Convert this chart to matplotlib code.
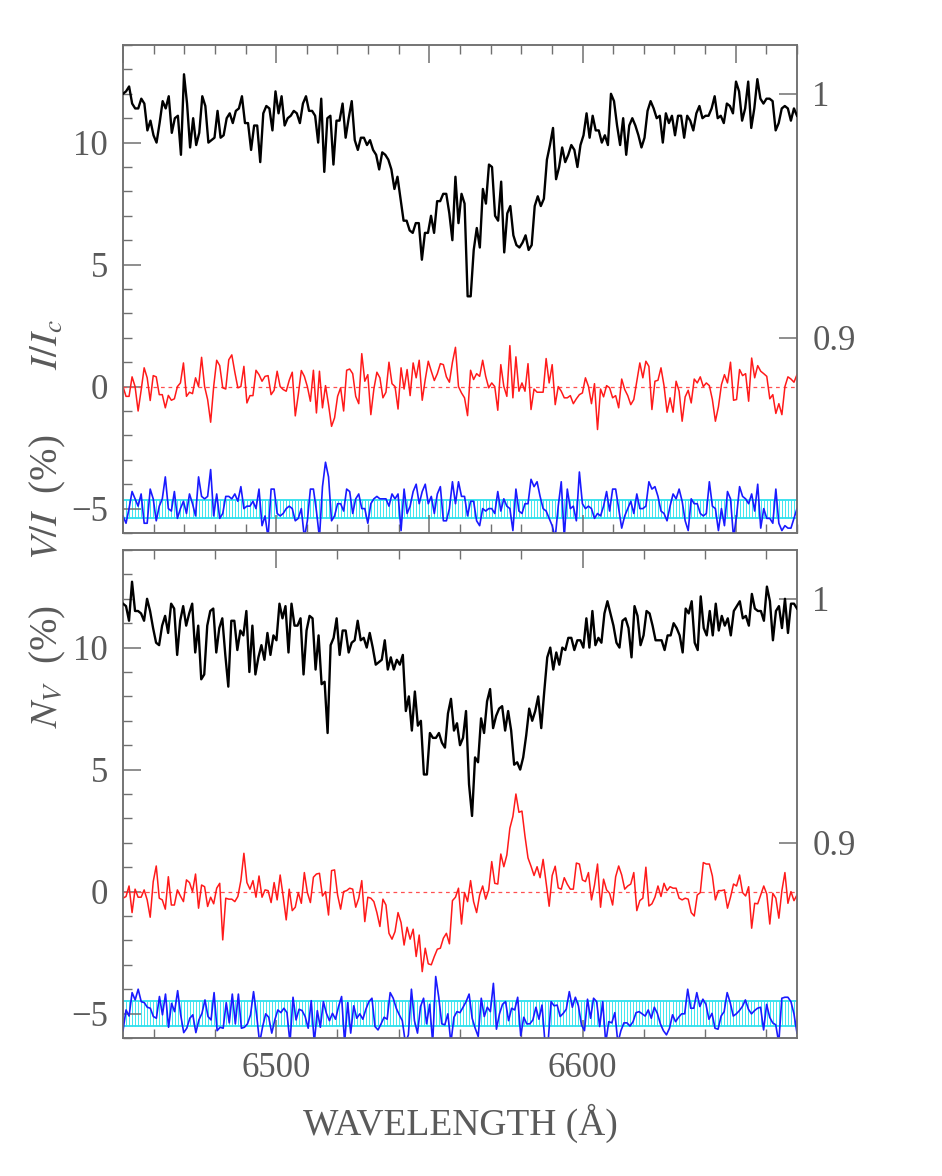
import numpy as np
import matplotlib
matplotlib.use("Agg")
import matplotlib.pyplot as plt
from matplotlib.ticker import MultipleLocator, FixedLocator, NullLocator

# spectral range (Angstrom) covered by every series; samples are evenly spaced
WL_MIN, WL_MAX = 6450.0, 6670.0

# ---- upper panel -------------------------------------------------------
top_I = [  # Stokes I / Ic
    1.000, 1.001, 1.003, 0.996, 0.994, 0.994, 0.998, 0.996, 0.985, 0.989,
    0.983, 0.980, 0.988, 0.997, 0.994, 0.999, 0.984, 0.990, 0.991, 0.975,
    1.008, 0.996, 0.978, 0.990, 0.979, 0.984, 0.999, 0.995, 0.980, 0.981,
    0.982, 0.993, 0.982, 0.983, 0.990, 0.992, 0.988, 0.993, 0.994, 0.999,
    0.988, 0.988, 0.977, 0.987, 0.987, 0.972, 0.992, 0.995, 0.994, 0.985,
    1.001, 0.992, 0.999, 0.987, 0.990, 0.991, 0.993, 0.992, 0.988, 0.996,
    0.999, 0.993, 0.993, 0.991, 0.980, 0.998, 0.968, 0.990, 0.991, 0.971,
    0.989, 0.989, 0.996, 0.982, 0.990, 0.997, 0.981, 0.977, 0.982, 0.982,
    0.979, 0.981, 0.977, 0.975, 0.969, 0.976, 0.975, 0.973, 0.969, 0.961,
    0.966, 0.957, 0.948, 0.948, 0.944, 0.943, 0.947, 0.947, 0.932, 0.943,
    0.943, 0.950, 0.943, 0.956, 0.956, 0.959, 0.959, 0.951, 0.940, 0.966,
    0.947, 0.959, 0.955, 0.917, 0.917, 0.936, 0.945, 0.937, 0.961, 0.955,
    0.971, 0.970, 0.950, 0.948, 0.964, 0.935, 0.951, 0.954, 0.942, 0.938,
    0.937, 0.939, 0.942, 0.936, 0.938, 0.954, 0.958, 0.954, 0.957, 0.973,
    0.979, 0.986, 0.965, 0.970, 0.978, 0.972, 0.975, 0.979, 0.977, 0.970,
    0.979, 0.983, 0.992, 0.982, 0.991, 0.985, 0.985, 0.980, 0.983, 0.979,
    1.000, 0.997, 0.987, 0.979, 0.990, 0.975, 0.987, 0.990, 0.987, 0.983,
    0.978, 0.982, 0.993, 0.997, 0.994, 0.990, 0.991, 0.980, 0.992, 0.988,
    0.991, 0.983, 0.991, 0.991, 0.982, 0.991, 0.989, 0.985, 0.992, 0.995,
    0.990, 0.991, 0.991, 0.994, 0.999, 0.990, 0.991, 0.988, 0.996, 0.995,
    0.992, 1.005, 1.001, 0.989, 0.994, 1.005, 0.986, 0.994, 1.006, 0.998,
    0.996, 0.998, 0.998, 0.997, 0.985, 0.988, 0.994, 0.995, 0.994, 0.989,
    0.994, 0.991]
top_V = [  # Stokes V / I (%)
    0.0, -0.4, -0.4, 0.4, 0.0, -1.0, -0.15, 0.77, 0.36, -0.57,
    0.45, 0.4, -0.33, -0.33, -0.87, -0.36, -0.56, -0.5, 0.0, 0.15,
    0.97, -0.4, -0.23, -0.29, 0.36, 0.0, 1.2, 0.0, -0.53, -1.46,
    0.0, 1.08, 0.86, -0.05, -0.1, 1.1, 1.3, 0.59, -0.05, 0.0,
    0.83, -0.67, -0.37, -0.37, 0.67, 0.49, 0.22, 0.42, 0.45, -0.33,
    -0.15, 0.63, 0.0, -0.12, -0.19, 0.26, 0.59, -1.2, -0.33, 0.66,
    0.42, 0.0, -0.6, 0.67, -1.08, 0.63, -0.87, 0.04, -0.74, -1.63,
    -1.28, -0.4, -0.05, -1.0, 0.67, 0.72, 0.53, -0.4, -0.7, 1.35,
    0.22, 0.49, -1.15, -0.1, 0.59, 0.36, -0.46, -0.23, 1.0, 0.12,
    0.0, -0.92, 0.77, -0.1, 0.7, -0.37, 0.97, 0.36, 1.08, -0.56,
    0.29, 1.04, 0.63, 0.25, 0.53, 0.94, 0.9, 0.4, 0.18, 1.0,
    1.61, 0.0,
    -0.26, -0.46, -1.19, 0.67, 0.29, 0.53, 0.42, 1.08, 0.42, -0.05,
    0.15, 0.0, -0.97, 0.9, 0.01, -0.4, 1.68, -0.46, 1.22, -0.19,
    0.15, -0.19, 0.94, -0.94, -0.1, -0.23, -0.23, -0.23, 1.15, 0.15,
    0.9, -0.74, 0.0, -0.19, -0.46, -0.46, -0.37, -0.7, -0.5, -0.33,
    -0.26, 0.36, 0.01, -0.7, 0.12, -1.76, -0.1, -0.42, 0.04, -0.05,
    -0.46, -0.37, -0.87, 0.31, -0.12, -0.37, -0.74, -0.53, 0.22, 0.97,
    0.36, 1.04, 0.83, -0.94, 0.22, 0.26, 0.77, 0.04, -1.05, -0.46,
    -1.05, 0.22, -0.19, -1.42, -0.42, -0.15, -0.67, 0.31, 0.15, 0.4,
    0.0, 0.15, 0.04, -0.53, -1.42, -0.83, 0.08, 0.49, 0.15, 1.0,
    -0.56, -0.53, 0.7, 0.45, 0.53, -0.6, 1.17, 0.36, 0.86, 0.63,
    0.53, 0.42, -0.5, -0.33, -1.1, -0.7, -1.15, 0.0, 0.4, 0.31,
    0.18, 0.49]
top_N = [  # null profile N_V (%)
    -0.3, -0.6, 0.0, 0.7, 0.4, 0.1, 0.6, -0.6, -0.6, 0.8,
    0.4, -0.5, 0.1, 0.4, 1.3, 0.0, -0.1, 0.7, -0.4, 0.0,
    0.3, -0.2, 0.6, 0.2, -0.3, 1.3, 0.5, 0.4, 0.5, 1.6,
    -0.3, 0.6, -0.4, -0.2, 0.5, 0.5, 0.4, 0.6, 0.3, 0.9,
    0.0, 0.1, 0.1, 0.3, 0.0, 0.8, -0.7, -0.3, -1.2, 0.8,
    0.8, -0.2, -0.3, -0.2, 0.0, 0.1, 0.0, -0.5, -0.4, 0.0,
    -1.2, -0.5, 0.8, 0.8, -0.1, -1.2, 0.9, 1.9, 1.3, -0.5,
    -0.3, 0.2, 0.2, -0.1, 0.8, 0.7, -0.2, 0.4, 0.6, 0.0,
    0.0, -0.6, 0.2, 0.4, 0.5, 0.4, 0.4, 0.4, 0.1, 0.6,
    0.4, 0.6, -0.9, 0.8, -0.2, 0.1, 0.7, 1.0, 0.2, 0.7,
    1.0, 0.2, 0.5, -0.2, 0.6, 0.9, -0.5, -0.5, 0.0, 1.1,
    0.2, 1.1,
    0.5, 0.5, -0.3, 0.3, 0.3, -0.5, -0.7, 0.0, -0.1, 0.0,
    0.0, -0.2, 0.7, -0.1, 0.4, 0.1, 0.0, -0.9, 0.8, -0.1,
    -0.2, 0.2, 0.2, 1.2, 0.9, 1.1, 0.5, 0.0, -0.1, -0.4,
    -0.7, -1.2, 0.1, 1.1, -1.2, 0.8, 0.0, 0.1, -0.5, 1.5,
    0.2, 0.0, 0.1, 0.0, -0.4, -0.2, -0.3, 0.1, 0.7, -0.1,
    0.8, 0.8, 0.0, -0.8, -0.3, 0.0, 0.3, -0.2, 0.6, 0.0,
    0.0, 0.1, 1.1, 0.8, 0.9, 0.5, -0.1, -0.2, -0.5, 0.1,
    0.6, 0.4, 0.8, 0.3, -0.5, -0.9, 0.4, 0.2, 0.2, -0.2,
    -0.3, -0.2, 1.1, 0.1, 0.0, -0.9, 0.0, -0.7, 0.7, 0.4,
    -1.2, -0.3, 0.9, 0.5, 0.4, 0.2, 0.6, -0.1, 1.0, -0.8,
    0.0, -0.4, -0.4, -0.6, 0.8, -0.6, -0.9, -0.7, -0.8, -0.8,
    -0.4, 0.0]
top_sigma = 0.37  # null error-bar half width (%)

# ---- lower panel -------------------------------------------------------
bot_I = [
    0.998, 0.997, 0.991, 1.007, 0.995, 0.995, 0.994, 0.991, 1.000, 0.995,
    0.988, 0.982, 0.981, 0.989, 0.993, 0.986, 0.998, 0.996, 0.977, 0.991,
    0.997, 0.989, 0.994, 0.998, 0.978, 0.989, 0.967, 0.969, 0.989, 0.995,
    0.996, 0.978, 0.988, 0.992, 0.977, 0.964, 0.991, 0.991, 0.979, 0.987,
    0.985, 0.995, 0.970, 0.989, 0.969, 0.976, 0.981, 0.975, 0.986, 0.977,
    0.985, 0.983, 0.998, 0.992, 0.997, 0.978, 0.998, 0.989, 0.989, 0.992,
    0.969, 0.987, 0.993, 0.992, 0.971, 0.985, 0.965, 0.966, 0.945, 0.981,
    0.984, 0.992, 0.977, 0.987, 0.987, 0.978, 0.982, 0.983, 0.991, 0.983,
    0.984, 0.980, 0.986, 0.980, 0.973, 0.974, 0.975, 0.983, 0.971, 0.976,
    0.971, 0.975, 0.973, 0.977, 0.954, 0.960, 0.946, 0.962, 0.948, 0.950,
    0.928, 0.928, 0.945, 0.943, 0.943, 0.945, 0.941, 0.939, 0.953, 0.959,
    0.946, 0.949,
    0.940, 0.943, 0.954, 0.924, 0.911, 0.935, 0.933, 0.951, 0.945, 0.958,
    0.963, 0.947, 0.952, 0.955, 0.956, 0.946, 0.954, 0.946, 0.932, 0.933,
    0.930, 0.935, 0.944, 0.955, 0.950, 0.954, 0.960, 0.947, 0.962, 0.976,
    0.980, 0.971, 0.978, 0.973, 0.980, 0.979, 0.984, 0.984, 0.979, 0.983,
    0.983, 0.980, 0.992, 0.980, 0.995, 0.981, 0.984, 0.982, 0.994, 0.999,
    0.994, 0.989, 0.982, 0.980, 0.991, 0.992, 0.988, 0.976, 0.997, 0.993,
    0.981, 0.985, 0.995, 0.994, 0.989, 0.983, 0.983, 0.983, 0.979, 0.985,
    0.985, 0.990, 0.988, 0.985, 0.978, 0.996, 0.994, 0.999, 0.982, 0.979,
    1.001, 0.988, 0.985, 0.995, 0.985, 0.998, 0.987, 0.993, 0.989, 0.992,
    0.985, 0.995, 0.997, 0.999, 0.992, 0.993, 0.989, 1.002, 0.996, 0.995,
    0.995, 0.991, 1.005, 0.999, 0.983, 0.995, 0.997, 0.988, 1.000, 0.986,
    0.998, 0.998, 0.996]
bot_V = [
    -0.27, -0.2, 0.23, -0.86, 0.1, -0.23, -0.23, 0.07, -0.34, -1.05,
    0.41, 1.05, -0.27, -0.34, -0.72, 0.61, -0.55, -0.55, 0.07, -0.18,
    -0.41, 0.48, 0.37, 0.0, 0.72, -0.68, 0.27, 0.2, -0.61, -0.23,
    -0.5, 0.14, 0.34, -1.98, -0.27, -0.31, -0.31, -0.41, -0.2, 0.45,
    1.57, 0.37, 0.1, 0.45, -0.23, 0.64, -0.23, 0.07, 0.04, -0.45,
    0.37, -0.34, 0.68, -0.2, -1.16, 0.1, -0.78, -0.64, -0.04, -0.48,
    0.78, -0.04, -0.45, 0.59, 0.72, 0.75, -0.18, 0.0, -0.96, 0.86,
    0.89, -0.14, -0.72, 0.0, 0.04, 0.14, 0.1, -0.64, -0.27, 0.45,
    -1.23, -0.23, -0.27, -0.41, -0.86, -1.43, -0.31, -0.55, -1.71, -1.95,
    -1.64, -0.86, -1.27, -2.19, -1.46, -1.95, -1.54, -2.66, -1.78, -3.28,
    -2.32, -2.96, -3.0, -2.66, -2.36, -2.32, -1.91, -1.71, -2.14, -0.37,
    -0.23, 0.14,
    -1.33, -0.04, -0.41, 0.45, -0.41, -0.86, -0.14, 0.23, -0.31, 0.07,
    1.23, 0.34, 0.31, 1.54, 1.02, 1.5, 2.6, 3.08, 4.0, 3.25,
    3.3, 2.27, 1.38, 1.04, 0.66, 1.02, 0.57, 1.32, 0.35, -0.6,
    0.66, 1.04, 0.15, 0.1, 0.57, 0.3, 0.1, 0.1, 1.17, 1.13,
    0.48, 0.41, 0.78, -0.34, 0.27, 1.13, -0.64, 0.51, 0.07, -0.07,
    -0.55, 0.61, 1.05, 0.68, 0.1, 0.23, 0.31, 0.78, -0.78, -0.37,
    -0.27, 1.0, -0.59, -0.5, -0.23, 0.23, -0.2, 0.34, 0.04, 0.2,
    0.14, 0.14, -0.27, -0.34, -0.27, -0.31, -0.86, -1.0, -0.14, -0.04,
    1.19, 1.13, 1.13, 0.64, -0.34, 0.04, 0.04, 0.07, -0.68, -0.23,
    0.31, 0.23, 0.68, -0.04, -0.18, 0.2, -1.5, -0.48, -0.5, -0.14,
    0.23, -0.1, -1.33, -0.07, -0.27, -1.09, 0.04, 0.78, -0.48, 0.0,
    -0.37, -0.14]
bot_N = [
    -0.7, 0.15, -0.1, 0.86, 0.56, 1.0, 0.49, 0.45, 0.26, 0.22,
    -0.12, -0.19, 0.7, -0.05, 0.8, -0.56, 0.42, 0.08, 0.94, -0.05,
    -0.78, -0.6, -0.19, -0.05, -0.78, -0.26, 0.01, 0.56, -0.12, -0.26,
    0.86, -0.7, -0.56, -0.6, 0.45, -0.38, 0.8, -0.42, 0.8, -0.6,
    -0.56, -0.42, -0.05, 0.9, -0.05, -1.2, -0.53, -0.01, -0.15, -0.8,
    -0.26, 0.15, 0.04, 0.22, 0.04, -1.2, 0.67, -0.26, 0.18, 0.12,
    -0.12, -0.6, 0.53, -1.2, 0.12, -0.56, 0.49, 0.01, -0.29, 0.01,
    -0.23, 0.29, 0.7, -1.2, 0.45, -0.8, 0.32, -0.19, -0.01, -0.23,
    0.18, 0.49, 0.63, -0.53, -0.67, -0.42, -0.15, -0.23, 0.86, 0.63,
    0.22, -0.05, -0.29, -1.2, -0.87, 1.0, -0.29, -0.8, 0.29, 0.63,
    -0.42, 0.38, -1.2, 1.52, 0.67, -0.42, -0.46, -0.01, -1.2, -0.15,
    0.08, 0.04,
    0.26, 0.49, 0.8, -0.19, -0.6, -0.94, 0.63, -0.12, 0.26, 0.08,
    1.24, -0.64, -0.01, 0.38, 0.49, -0.29, 0.22, 0.15, 0.67, -0.91,
    -0.15, -0.42, -0.42, -0.26, 0.26, -0.23, 0.35, -1.2, -1.2, 0.49,
    0.32, 0.35, -0.12, 0.01, 0.18, 0.9, 0.26, 0.67, 0.32, -0.46,
    -0.7, 0.59, -0.19, 0.63, 0.49, -0.53, 0.49, -1.2, -0.33, -0.38,
    0.04, -1.2, -0.7, -0.38, -0.38, -0.51, -0.33, 0.04, 0.08, -0.01,
    -0.1, 0.15, -0.19, 0.26, 0.01, -0.42, -0.7, -0.87, -0.6, -0.05,
    -0.33, -0.15, -0.01, -0.01, 1.0, 0.22, 0.22, 0.86, 0.29, 0.59,
    0.38, -0.23, 0.01, -0.6, -0.64, -0.1, 0.08, 0.86, 0.45, -0.1,
    -0.01, 0.12, 0.29, 0.56, 0.18, -0.01, 0.12, 0.22, 0.26, -0.67,
    0.38, -0.15, -0.38, -0.46, -1.2, 0.63, 0.67, 0.67, 0.49, -0.01,
    -0.8]
bot_sigma = 0.5

NULL_SHIFT = -5.0            # null profile is shown shifted down by 5 %
PERCENT_YLIM = (-6, 14)
ICONT_YLIM = (0.82, 1.02)    # right axis, aligned with the left one

INK = "#5a5a5a"
FRAME = "#707070"
SERIF = "Liberation Serif"
FS = 25

plt.rcParams.update({
    "font.family": SERIF, "font.size": FS,
    "mathtext.fontset": "stix",
    "axes.edgecolor": FRAME, "axes.linewidth": 1.1,
    "xtick.color": FRAME, "ytick.color": FRAME,
    "xtick.labelcolor": INK, "ytick.labelcolor": INK,
})


def wave(vals):
    return np.linspace(WL_MIN, WL_MAX, len(vals))


def panel(rect, I, V, N, sigma, lower):
    ax = fig.add_axes(rect)
    wn = wave(N)
    ax.vlines(wn, NULL_SHIFT - sigma, NULL_SHIFT + sigma, color="#3ee6f0", lw=0.7, zorder=1)
    ax.hlines([NULL_SHIFT - sigma, NULL_SHIFT + sigma], WL_MIN, WL_MAX,
              color="#2ee0ee", lw=1.3, zorder=1)
    ax.axhline(0, color="#ff5050", lw=0.9, ls=(0, (3, 3)), zorder=2)
    ax.plot(wave(V), V, color="#ff1a1a", lw=1.1, zorder=3)
    ax.plot(wn, np.asarray(N) + NULL_SHIFT, color="#1a1aff", lw=1.2, zorder=3)
    ax.set_xlim(WL_MIN, WL_MAX)
    ax.set_ylim(*PERCENT_YLIM)
    ax.yaxis.set_major_locator(MultipleLocator(5))
    ax.yaxis.set_minor_locator(MultipleLocator(1))
    if lower:
        ax.xaxis.set_major_locator(MultipleLocator(100))
        ax.xaxis.set_minor_locator(MultipleLocator(20))
    else:
        ax.xaxis.set_major_locator(MultipleLocator(50))
        ax.xaxis.set_minor_locator(MultipleLocator(10))
        ax.tick_params(axis="x", labelbottom=False)
    ax.tick_params(which="both", direction="in", top=True, bottom=True,
                   left=True, right=False)
    ax.tick_params(which="major", length=13, width=1.1, pad=11)
    ax.tick_params(which="minor", length=6.5, width=1.0)
    ax.tick_params(axis="x", pad=10)

    ax2 = ax.twinx()
    ax2.plot(wave(I), I, color="black", lw=1.7, zorder=4)
    ax2.set_ylim(*ICONT_YLIM)
    ax2.yaxis.set_major_locator(FixedLocator([0.9, 1.0]))
    ax2.yaxis.set_minor_locator(NullLocator())
    ax2.set_yticklabels(["0.9", "1"])
    ax2.tick_params(which="major", direction="in", length=13, width=1.1, pad=11)
    return ax


fig = plt.figure(figsize=(9.42, 11.76), dpi=100)
W, H = 942.0, 1176.0
left, width = 123 / W, 674 / W
panel([left, 1 - 533 / H, width, 488 / H], top_I, top_V, top_N, top_sigma, lower=False)
panel([left, 1 - 1038 / H, width, 488 / H], bot_I, bot_V, bot_N, bot_sigma, lower=True)

# stacked y-axis label (read bottom to top)
LABEL_FS = 28
fig.text(48 / W, 1 - 666 / H, r"$N_V$  (%)", rotation=90, ha="center", va="center",
         color=INK, fontsize=LABEL_FS)
fig.text(48 / W, 1 - 497 / H, r"$V/I$  (%)", rotation=90, ha="center", va="center",
         color=INK, fontsize=LABEL_FS)
fig.text(48 / W, 1 - 345 / H, r"$I/I_c$", rotation=90, ha="center", va="center",
         color=INK, fontsize=LABEL_FS)

fig.text(460 / W, 1 - 1123 / H, "WAVELENGTH (Å)", ha="center", va="center",
         color=INK, fontsize=27)

fig.savefig("out.png", dpi=100)
